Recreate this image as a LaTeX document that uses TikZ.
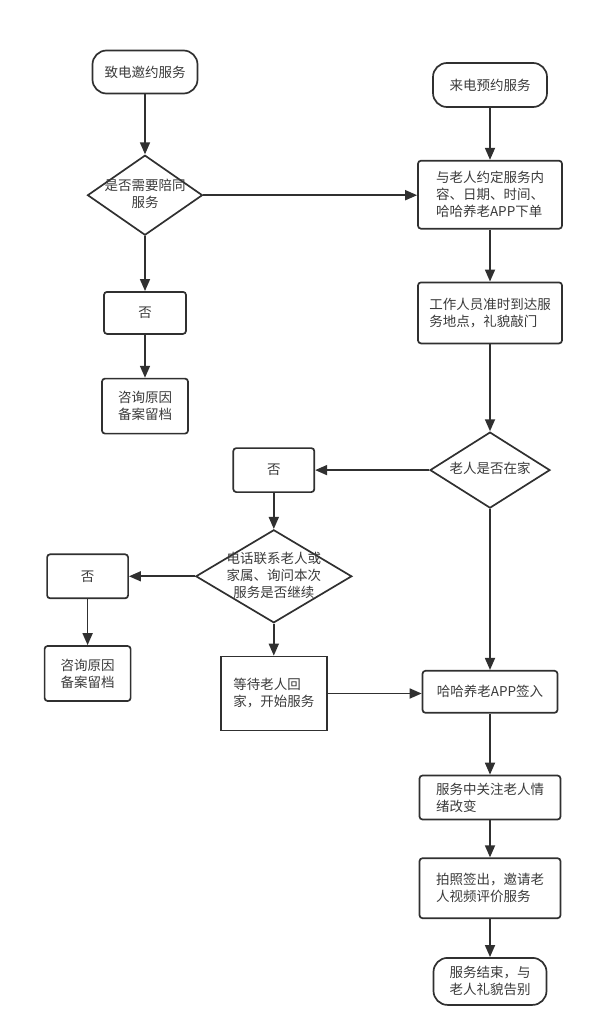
\documentclass[tikz,border=0pt]{standalone}
\usepackage{fontspec}
\setmainfont{Noto Sans CJK SC}
\usepackage{tikz}
\usetikzlibrary{positioning,shapes.geometric,arrows.meta}
\definecolor{linegray}{HTML}{303030}
\definecolor{textgray}{HTML}{3A3A3A}
% text inside a diamond, without changing its size
\newcommand{\dtext}[1]{\makebox[0pt]{\smash{\raisebox{-4pt}{\begin{tabular}{@{}c@{}}#1\end{tabular}}}}}
\tikzstyle{arrow} = [line width=1.7pt, draw=linegray, -{Triangle[length=12pt,width=10pt]}]
\tikzstyle{termnode} = [
    rectangle,                 % Shape
    draw=linegray,             % Border color
    line width=1.7pt,          % Border width
    rounded corners=14pt,      % Pill shape
    minimum width=110pt,       % Width
    minimum height=44pt,       % Height
    align=center,              % Centered text
    text=textgray,
    font={\fontsize{13.5pt}{17pt}\selectfont}
]
\tikzstyle{procnode} = [
    rectangle,
    draw=linegray,
    line width=1.7pt,
    rounded corners=3pt,
    minimum width=142pt,
    minimum height=44pt,
    align=left,
    text=textgray,
    font={\fontsize{13.5pt}{17pt}\selectfont}
]
\tikzstyle{decnode} = [diamond, draw=linegray, line width=1.7pt, inner sep=0pt,
                       text=textgray, font={\fontsize{13.5pt}{17pt}\selectfont}]

\begin{document}
\begin{tikzpicture}[x=1pt, y=-1pt, node distance=50pt]
	\useasboundingbox (0,0) rectangle (595,1024);

		% Invitation call (left column)
		\node[termnode, minimum width=105pt, minimum height=43pt] (invite) at (145,72) {致电邀约服务};
		\node[decnode, minimum width=115pt, minimum height=80pt, below=60pt of invite] (escort) {\dtext{是否需要陪同\\服务}};
		\node[procnode, minimum width=82pt, minimum height=42pt, below=55pt of escort] (noescort) {否};
		\node[procnode, minimum width=86pt, minimum height=55pt, below=43pt of noescort] (record1) {咨询原因\\备案留档};

		% Booking call (right column)
		\node[termnode, minimum width=114pt] (booking) at (490,85) {来电预约服务};
		\node[procnode, minimum width=144pt, minimum height=68pt, below=52pt of booking] (agree) {与老人约定服务内\\容、日期、时间、\\哈哈养老APP下单};
		\node[procnode, minimum width=144pt, minimum height=61pt, below=52pt of agree] (arrive) {工作人员准时到达服\\务地点，礼貌敲门};
		\node[decnode, minimum width=120pt, minimum height=76pt, below=87pt of arrive] (athome) {\dtext{老人是否在家}};

		% Not at home
		\node[procnode, minimum width=81pt, minimum height=44pt, left=114pt of athome] (nohome) {否};
		\node[decnode, minimum width=156pt, minimum height=93pt, below=36pt of nohome] (callfamily) {\dtext{电话联系老人或\\家属、询问本次\\服务是否继续}};
		\node[procnode, minimum width=81pt, minimum height=44pt, left=66pt of callfamily] (nocontinue) {否};
		\node[procnode, minimum width=86pt, minimum height=55pt, below=46pt of nocontinue] (record2) {咨询原因\\备案留档};
		\node[procnode, sharp corners, minimum width=106pt, minimum height=74pt, below=32pt of callfamily] (waitback) {等待老人回\\家，开始服务};

		% Service
		\node[procnode, minimum width=135pt, minimum height=42pt, below=161pt of athome] (signin) {哈哈养老APP签入};
		\node[procnode, minimum width=141pt, minimum height=44pt, below=61pt of signin] (care) {服务中关注老人情\\绪改变};
		\node[procnode, minimum width=141pt, minimum height=60pt, below=37pt of care] (photo) {拍照签出，邀请老\\人视频评价服务};
		\node[termnode, minimum width=113pt, minimum height=47pt, below=38pt of photo] (finish) {服务结束，与\\老人礼貌告别};

		% Arrows
		\draw[arrow] (invite) -- (escort);
		\draw[arrow] (escort) -- (noescort);
		\draw[arrow] (noescort) -- (record1);
		\draw[arrow] (escort.east) -- (escort.east -| agree.west);

		\draw[arrow] (booking) -- (agree);
		\draw[arrow] (agree) -- (arrive);
		\draw[arrow] (arrive) -- (athome);
		\draw[arrow] (athome.west) -- (nohome.east);
		\draw[arrow] (athome) -- (signin);

		\draw[arrow] (nohome) -- (callfamily);
		\draw[arrow] (callfamily.west) -- (nocontinue.east);
		\draw[arrow] (nocontinue) -- (record2);
		\draw[arrow] (callfamily) -- (waitback);
		\draw[arrow] (waitback.east) -- (waitback.east -| signin.west);

		\draw[arrow] (signin) -- (care);
		\draw[arrow] (care) -- (photo);
		\draw[arrow] (photo) -- (finish);
	\end{tikzpicture}
\end{document}
